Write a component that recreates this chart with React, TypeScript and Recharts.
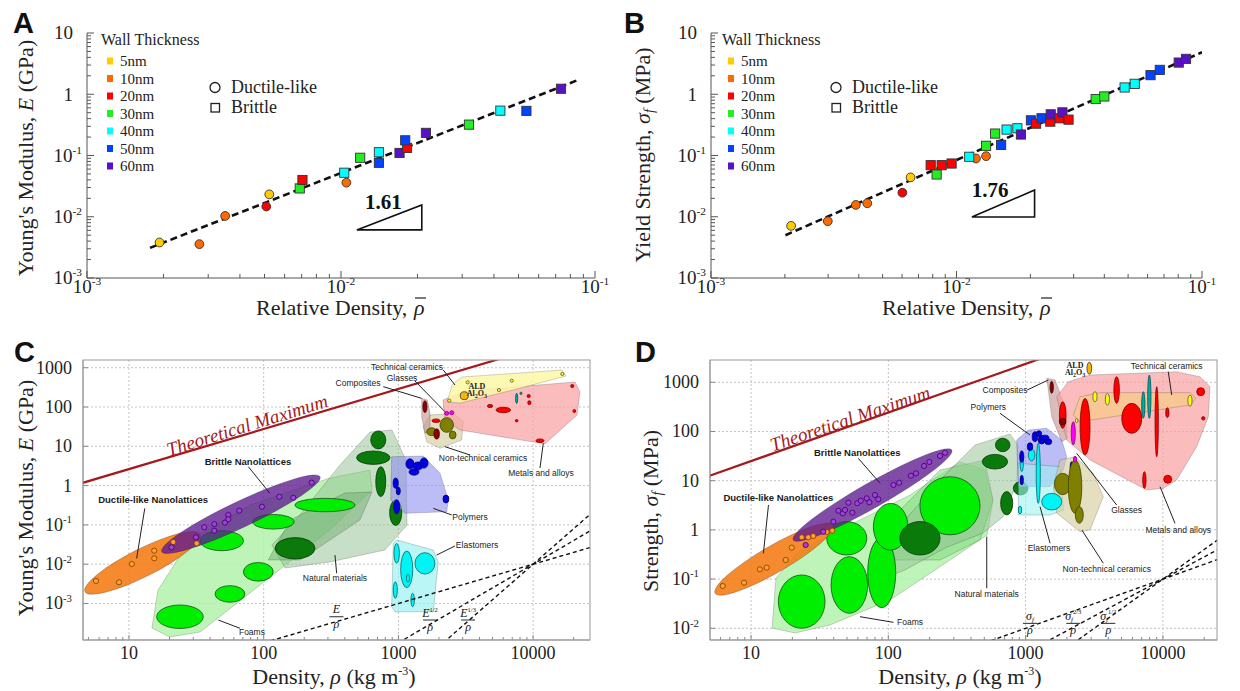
import React from 'react';
import { ScatterChart, Scatter, XAxis, YAxis, CartesianGrid } from 'recharts';

const SERIF = '"Liberation Serif", "Times New Roman", serif';
const SANS = '"Liberation Sans", Arial, sans-serif';

// wall thickness (nm) and marker colours
const WALL_NM = [5, 10, 20, 30, 40, 50, 60];
const NM_COLORS: Record<number, string> = {
  5: '#ffcc00', 10: '#ff6a00', 20: '#ff0000', 30: '#22ee22', 40: '#00ffff', 50: '#0044ff', 60: '#5a10c8',
};

// Panel A: [relative density, E (GPa), wall nm]
const A_DUCTILE = [[0.00193, 0.0038, 5], [0.00277, 0.00357, 10], [0.0035, 0.0103, 10], [0.00508, 0.0147, 20], [0.00522, 0.0232, 5], [0.0105, 0.036, 10]];
const A_BRITTLE = [[0.00688, 0.029, 30], [0.00705, 0.0398, 20], [0.0103, 0.0523, 40], [0.0119, 0.0918, 30], [0.0141, 0.113, 40], [0.0141, 0.076, 50], [0.017, 0.11, 60], [0.0182, 0.133, 20], [0.0179, 0.177, 50], [0.0216, 0.234, 60], [0.0319, 0.319, 30], [0.0424, 0.54, 40], [0.0537, 0.535, 50], [0.0735, 1.23, 60]];
const A_FIT = [[0.00177, 0.0031], [0.0845, 1.67]];
const A_SLOPE = [[0.01154, 0.0061], [0.0208, 0.0061], [0.0208, 0.0156], [0.01154, 0.0061]];
const A_SLOPE_LABEL: [string, number, number, string][] = [['1.61', 0.0147, 0.0174, 'slope']];

// Panel B: [relative density, yield strength (MPa), wall nm]
const B_DUCTILE = [[0.00212, 0.0071, 5], [0.00299, 0.00845, 10], [0.00389, 0.0156, 10], [0.00433, 0.0166, 10], [0.00602, 0.0247, 20], [0.0065, 0.0439, 5], [0.012, 0.0893, 10], [0.0132, 0.0975, 10]];
const B_BRITTLE = [[0.00785, 0.0695, 20], [0.0083, 0.049, 30], [0.0087, 0.0695, 20], [0.00955, 0.074, 20], [0.01127, 0.0953, 40], [0.0132, 0.144, 30], [0.0152, 0.149, 50], [0.01437, 0.228, 30], [0.016, 0.265, 40], [0.0177, 0.278, 40], [0.0183, 0.22, 60], [0.0201, 0.375, 50], [0.0211, 0.331, 20], [0.0222, 0.405, 50], [0.0241, 0.357, 20], [0.0242, 0.47, 60], [0.0263, 0.405, 20], [0.027, 0.506, 60], [0.0286, 0.385, 20], [0.0369, 0.835, 30], [0.04, 0.92, 30], [0.0484, 1.29, 40], [0.0532, 1.48, 40], [0.0617, 2.05, 50], [0.0673, 2.5, 50], [0.0804, 3.29, 60], [0.0861, 3.78, 60]];
const B_FIT = [[0.00201, 0.005], [0.1, 4.85]];
const B_SLOPE = [[0.01155, 0.0099], [0.0208, 0.0099], [0.0208, 0.0273], [0.01155, 0.0099]];
const B_SLOPE_LABEL: [string, number, number, string][] = [['1.76', 0.0137, 0.028, 'slope']];

// Panel C: Young's modulus (GPa) vs density (kg/m3)
// bubbles: [density, modulus, half spread x (decades), half spread y (decades)]
const C_FOAM_BUBBLES = [[23.9, 4.6e-4, 0.173, 0.298], [56.2, 1.75e-3, 0.111, 0.211], [91.2, 6.4e-3, 0.111, 0.237], [48.8, 0.0396, 0.161, 0.254], [118, 0.12, 0.154, 0.186], [285, 0.32, 0.223, 0.17]];
const C_NATURAL_BUBBLES = [[171, 0.0254, 0.148, 0.272], [709, 14.5, 0.056, 0.229], [651, 5.13, 0.124, 0.17], [740, 1.26, 0.037, 0.38], [955, 0.204, 0.045, 0.323]];
const C_POLYMER_BUBBLES = [[1219, 3.55, 0.03, 0.13], [1397, 3.16, 0.037, 0.1], [1549, 3.76, 0.03, 0.13], [1306, 2.22, 0.037, 0.08], [955, 1.15, 0.019, 0.13], [998, 0.73, 0.015, 0.1], [971, 0.29, 0.022, 0.18], [2254, 0.456, 0.022, 0.1]];
const C_ELASTOMER_BUBBLES = [[1574, 0.0105, 0.074, 0.272], [1153, 7.4e-3, 0.045, 0.466], [971, 0.0189, 0.02, 0.25], [948, 2.2e-3, 0.015, 0.21], [1276, 1.23e-3, 0.013, 0.17], [1178, 4.4e-3, 0.012, 0.1]];
const C_CERAMIC_BUBBLES = [[2389, 145, 0.012, 0.04], [3266, 425, 0.012, 0.04], [5580, 271, 0.012, 0.04], [6940, 467, 0.012, 0.04], [16480, 692, 0.012, 0.04]];
const C_ALD = [[3083, 194, 0.03, 0.1]];
const C_METAL_BUBBLES = [[6010, 84, 0.054, 0.069], [4790, 106, 0.02, 0.04], [9270, 190, 0.012, 0.04], [9380, 129, 0.012, 0.05], [7550, 44.8, 0.01, 0.03], [11250, 13.9, 0.03, 0.045], [20230, 79, 0.01, 0.04], [19540, 342, 0.012, 0.04], [1901, 44.8, 0.03, 0.045]];
const C_TEAL = [[7550, 166, 0.008, 0.13], [8130, 223, 0.008, 0.03]];
const C_OLIVE = [[2284, 34.8, 0.05, 0.186], [1766, 23.5, 0.037, 0.1], [2530, 19.4, 0.025, 0.1]];
const C_DARKRED = [[1574, 102, 0.015, 0.15], [1923, 20.6, 0.02, 0.13]];
const C_GLASS = [[2284, 69, 0.015, 0.05], [2489, 71.6, 0.015, 0.05]];
// family envelopes: vertices [density, modulus]
const C_FOAM_ENV = [[14.8, 2.38e-4], [16.4, 2.2e-3], [28.4, 0.0413], [79.1, 0.321], [310, 1.56], [615, 2.49], [637, 0.773], [310, 0.0741], [94, 2.95e-3], [33.7, 1.88e-4], [20.1, 1.4e-4]];
const C_NATURAL_ENV = [[115, 0.0308], [186, 0.179], [368, 3.34], [615, 23.1], [897, 26], [1138, 4.48], [1158, 0.0993], [795, 0.023], [310, 0.0114], [144, 0.008]];
const C_NATURAL_ENV2 = [[108, 0.0128], [157, 0.133], [402, 0.649], [637, 0.687], [518, 0.133], [186, 0.0128]];
const C_POLYMER_ENV = [[891, 5.43], [1531, 5.66], [2037, 2.06], [2346, 0.43], [2284, 0.217], [1119, 0.197], [877, 0.43]];
const C_ELASTOMER_ENV = [[971, 0.0413], [1815, 0.0229], [1977, 0.0114], [1815, 6.2e-4], [944, 6.1e-4], [891, 8.3e-4], [916, 0.034]];
const C_METAL_ENV = [[2143, 151], [3119, 255], [20470, 433], [22280, 241], [21180, 62.5], [12250, 11.5], [2864, 26], [2218, 46.7]];
const C_TECH_ENV = [[2296, 134], [2500, 363], [2966, 580], [16400, 873], [17550, 615], [7100, 271], [2864, 126]];
const C_COMPOSITE_ENV = [[1489, 166], [1640, 151], [1718, 69], [1718, 26], [1574, 21.4], [1489, 56.6]];
const C_NONTECH_ENV = [[1531, 31.5], [1718, 62.5], [2560, 69], [3035, 42.3], [2950, 14.5], [2037, 8.9], [1622, 13.1]];
// nanolattice bands: major-axis ends [x1, y1, x2, y2]
const C_DUCTILE_BAND = [4.71, 0.002, 33.6, 0.0586];
const C_BRITTLE_BAND = [17.5, 0.0208, 262, 1.68];
const C_DUCTILE_PTS = [[5.69, 0.00374], [8.43, 0.00347], [10.5, 0.0101], [15.4, 0.0141], [15.4, 0.0221], [21.3, 0.0367], [31.8, 0.034]];
const C_BRITTLE_PTS = [[20.7, 0.0269], [31.4, 0.0483], [36.2, 0.0869], [43, 0.105], [43, 0.0711], [51.6, 0.114], [54.6, 0.179], [54.6, 0.139], [65.9, 0.23], [97, 0.29], [130.6, 0.52], [166, 0.49], [227, 1.19]];
const C_THEORY = [[4.4, 1.14, 6000, 1790]];
const C_GUIDES = [[100, 1e-4, 30000, 0.03], [1000, 1e-4, 30000, 0.09], [2154, 1e-4, 30000, 0.27]];
const C_LEADERS = [[13.1, 0.264, 11.4, 0.0141], [76.9, 3.03, 111, 0.637], [46, 3.8e-4, 66.7, 2.34e-4], [338, 0.0171, 348, 5.9e-3], [1815, 0.264, 2490, 0.179], [1923, 0.0171, 2630, 0.029], [2218, 9.77, 3400, 6.01], [11900, 11.9, 11250, 2.8], [2153, 873, 2630, 363], [1327, 459, 2218, 75.9], [773, 329, 1489, 166]];
const C_LABELS: [string, number, number, string][] = [
  ['Ductile-like Nanolattices', 15.1, 0.43, 'bold'], ['Brittle Nanolattices', 76.4, 3.98, 'bold'],
  ['Foams', 81.8, 1.88e-4, 'small'], ['Natural materials', 338, 4.46e-3, 'small'], ['Polymers', 3400, 0.159, 'small'],
  ['Elastomers', 3840, 0.0308, 'small'], ['Non-technical ceramics', 4250, 5.04, 'small'], ['Metals and alloys', 11450, 2.09, 'small'],
  ['Technical ceramics', 1159, 1042, 'small'], ['Glasses', 1064, 547, 'small'], ['Composites', 501, 408, 'small'],
  ['ALD', 3830, 342, 'ald'], ['Al2O3', 3830, 227, 'al2o3'], ['Theoretical Maximum', 75.2, 34.8, 'theoC'],
];
const C_FRAC = [[347, 4.6e-4, ''], [1718, 3.8e-4, '1/2'], [3290, 3.8e-4, '1/3']];

// Panel D: strength (MPa) vs density (kg/m3)
const D_FOAM_BUBBLES = [[23.4, 0.0348, 0.17, 0.542], [52, 0.0759, 0.133, 0.575], [49.8, 0.675, 0.146, 0.339], [89.5, 0.135, 0.102, 0.711], [104, 1.16, 0.126, 0.474], [281, 3.09, 0.219, 0.59]];
const D_NATURAL_BUBBLES = [[170, 0.675, 0.146, 0.339], [681, 53.2, 0.053, 0.136], [598, 24.3, 0.092, 0.149], [728, 3.48, 0.044, 0.237], [920, 7.01, 0.053, 0.136]];
const D_OLIVE = [[1862, 8.57, 0.06, 0.217], [2291, 7.55, 0.049, 0.542], [2461, 2.01, 0.029, 0.169]];
const D_CYAN = [[1549, 3.74, 0.073, 0.169], [1236, 14.1, 0.015, 0.61], [1106, 33.3, 0.024, 0.122], [910, 2.54, 0.012, 0.081], [937, 22.6, 0.012, 0.17]];
const D_BLUE = [[1170, 78.4, 0.02, 0.1], [1309, 67.1, 0.025, 0.08], [1463, 62.1, 0.025, 0.06], [1076, 49.1, 0.02, 0.08], [937, 30.8, 0.015, 0.12], [937, 10.3, 0.012, 0.1], [2168, 19.3, 0.012, 0.1], [1250, 90, 0.02, 0.06], [1380, 75, 0.03, 0.05]];
const D_MAGENTA = [[2223, 91.9, 0.015, 0.237], [2291, 27.2, 0.012, 0.06]];
const D_YELLOW = [[2355, 166, 0.01, 0.04], [3200, 509, 0.015, 0.1], [3940, 451, 0.015, 0.12], [15740, 423, 0.015, 0.11]];
const D_ALD = [[2910, 1930, 0.017, 0.122]];
const D_RED = [[1862, 216, 0.024, 0.27], [2710, 125, 0.036, 0.575], [4600, 697, 0.02, 0.27], [5930, 185, 0.073, 0.305], [9010, 158, 0.012, 0.711], [10770, 241, 0.012, 0.1], [18840, 644, 0.029, 0.081], [19680, 185, 0.012, 0.035], [7330, 10.3, 0.012, 0.17], [10840, 10.7, 0.029, 0.081]];
const D_DARKRED = [[1549, 791, 0.012, 0.122], [1862, 158, 0.024, 0.068]];
const D_TEAL = [[7200, 346, 0.012, 0.27], [7960, 509, 0.012, 0.44]];
const D_FOAM_ENV = [[14.2, 0.0101], [15.2, 0.105], [22.8, 0.39], [52.6, 1.26], [144, 5.12], [333, 24], [506, 16.5], [579, 4.06], [524, 0.787], [281, 0.244], [103, 0.0376], [37.6, 0.0117], [20.9, 8.0e-3]];
const D_MID_ENV = [[94.6, 0.244], [122, 2.54], [238, 16.5], [506, 26.4], [579, 4.06], [466, 0.624], [238, 0.244]];
const D_NATURAL_ENV = [[87.1, 0.0959], [132, 1.59], [238, 10.3], [428, 53.2], [769, 88.9], [881, 53.2], [865, 8.98], [684, 1.83], [490, 0.865], [259, 0.429], [132, 0.153]];
const D_POLYMER_ENV = [[861, 67.1], [1047, 107], [1426, 116], [1832, 67.1], [1991, 30.8], [1884, 16.5], [1507, 7.55], [881, 7.55]];
const D_ELASTOMER_ENV = [[885, 22.6], [1778, 19.3], [1884, 2.54], [1507, 2.01], [885, 2.01]];
const D_NONTECH_ENV = [[1778, 26.4], [2291, 30.8], [3112, 14.1], [3680, 4.73], [2944, 0.995], [2489, 0.918], [1687, 2.17], [1592, 7.55]];
const D_METAL_ENV = [[1687, 509], [2046, 1028], [2944, 1406], [12590, 1641], [18620, 1300], [22030, 815], [21430, 200], [17620, 49.1], [12590, 10.3], [10070, 7.01], [7620, 6.47], [2944, 26.4], [1991, 67.1]];
const D_TECH_ENV = [[2223, 216], [2489, 509], [3480, 615], [15740, 615], [17400, 473], [15740, 346], [2489, 158]];
const D_COMPOSITE_ENV = [[1426, 1206], [1637, 1114], [1991, 274], [2012, 72.8], [1832, 62.1], [1549, 200]];
const D_DUCTILE_BAND = [5.47, 0.0514, 39.7, 1.26];
const D_BRITTLE_BAND = [20.3, 0.624, 290, 42.1];
const D_DUCTILE_PTS = [[6.22, 0.0724], [8.9, 0.0845], [11.6, 0.158], [13, 0.171], [17.9, 0.244], [19.8, 0.435], [23.4, 0.708], [26.1, 0.708], [28.4, 0.751], [35.6, 0.906], [39.1, 0.964]];
const D_BRITTLE_PTS = [[25, 0.493], [33.6, 0.918], [39.8, 1.47], [43.3, 2.45], [46.6, 2.17], [48.4, 2.54], [54.7, 2.24], [51.2, 3.57], [59.4, 3.48], [63, 3.92], [69.6, 4.38], [72.8, 3.64], [80, 5.12], [84.5, 4.19], [109, 8.18], [120, 9.1], [146, 12.6], [159, 14.1], [182, 19.9], [199, 24], [238, 31.8], [259, 37]];
const D_THEORY = [[4.8, 12.1, 1400, 3300]];
const D_GUIDES = [[500, 0.005, 30000, 0.3], [1000, 0.00316, 30000, 0.52], [2000, 0.004, 30000, 0.9]];
const D_LEADERS = [[13.4, 3.21, 12.3, 0.334], [60.4, 28.5, 87.1, 8.85], [62.2, 0.0172, 109, 0.0132], [521, 0.728, 521, 0.065], [651, 234, 1076, 84.9], [1028, 698, 1463, 1114], [1507, 0.535, 1274, 2.96], [3680, 0.21, 2566, 0.995], [4600, 3.21, 2355, 36], [12250, 1.36, 9530, 7.55], [10940, 1641, 11590, 552]];
const D_LABELS: [string, number, number, string][] = [
  ['Ductile-like Nanolattices', 15.8, 4.6, 'bold'], ['Brittle Nanolattices', 59.4, 37, 'bold'],
  ['Foams', 144, 0.0132, 'small'], ['Natural materials', 521, 0.0498, 'small'], ['Elastomers', 1479, 0.423, 'small'],
  ['Non-technical ceramics', 3900, 0.158, 'small'], ['Glasses', 5440, 2.54, 'small'], ['Metals and alloys', 12940, 0.995, 'small'],
  ['Technical ceramics', 10660, 2140, 'small'], ['Composites', 708, 698, 'small'], ['Polymers', 535, 310, 'small'],
  ['ALD', 2291, 2250, 'ald'], ['Al2O3', 2291, 1567, 'al2o3'], ['Theoretical Maximum', 52.6, 185, 'theoD'],
];
const D_FRAC = [[1076, 0.0126, ''], [2223, 0.0126, '2/3'], [4000, 0.0126, '1/2']];

const MULTS = [1, 2, 3, 4, 5, 6, 7, 8, 9];
const logTicks = (lo: number, hi: number, mults = MULTS) => {
  const out: number[] = [];
  for (let e = Math.floor(Math.log10(lo)); e <= Math.ceil(Math.log10(hi)); e++) {
    for (const m of mults) {
      const v = m * Math.pow(10, e);
      if (v >= lo * 0.9999 && v <= hi * 1.0001) out.push(v);
    }
  }
  return out;
};
const isMajor = (v: number) => Math.abs(Math.log10(v) - Math.round(Math.log10(v))) < 1e-6;

const Hidden = () => <g />;

function PowLabel({ x, y, v, anchor, size, plainMin }: any) {
  const e = Math.round(Math.log10(v));
  if (e >= plainMin) {
    return <text x={x} y={y} textAnchor={anchor} fontSize={size} fontFamily={SERIF} fill="#222">{String(Math.round(v))}</text>;
  }
  return (
    <text x={x} y={y} textAnchor={anchor} fontSize={size} fontFamily={SERIF} fill="#222">
      10<tspan dy={-size * 0.42} fontSize={size * 0.6}>{String(e)}</tspan>
    </text>
  );
}

function makeTick(axis: 'x' | 'y', o: any) {
  return (p: any) => {
    const v = p.payload.value;
    const maj = isMajor(v);
    const len = maj ? o.major : o.minor;
    const pow = Math.round(Math.log10(v)) < o.plainMin;
    if (axis === 'y') {
      return (
        <g>
          {len > 0 && <line x1={p.x} x2={p.x + len} y1={p.y} y2={p.y} stroke={o.color} />}
          {maj && <PowLabel x={p.x - (pow ? o.gapPow : o.gap)} y={p.y + o.size * 0.33} v={v} anchor="end" size={o.size} plainMin={o.plainMin} />}
        </g>
      );
    }
    return (
      <g>
        {len > 0 && <line x1={p.x} x2={p.x} y1={p.y} y2={p.y - len} stroke={o.color} />}
        {maj && <PowLabel x={p.x} y={p.y + o.gap} v={v} anchor="middle" size={o.size} plainMin={o.plainMin} />}
      </g>
    );
  };
}

const pts = (list: number[][]) => list.map(([x, y]) => ({ x, y }));
const pairPts = (list: number[][]) => list.flatMap(([x1, y1, x2, y2]) => [{ x: x1, y: y1 }, { x: x2, y: y2 }]);

function blob(key: string, verts: number[][], fill: string, op: number, stroke = 'rgba(0,0,0,0.22)') {
  return (
    <Scatter key={key} data={pts(verts)} shape={Hidden} isAnimationActive={false}
      line={{ fill, fillOpacity: op, stroke, strokeWidth: 0.8, strokeLinejoin: 'round' }} lineType="joint" lineJointType="linearClosed" />
  );
}

function bubbles(key: string, list: number[][], fill: string, stroke: string, op = 1) {
  const corners = list.flatMap(([x, y, dx, dy]) => [
    { x: x / Math.pow(10, dx), y: y / Math.pow(10, dy) },
    { x: x * Math.pow(10, dx), y: y * Math.pow(10, dy) },
  ]);
  const draw = (lp: any) => (
    <g>
      {list.map((_, i) => {
        const a = lp.points[2 * i];
        const b = lp.points[2 * i + 1];
        return <ellipse key={i} cx={(a.x + b.x) / 2} cy={(a.y + b.y) / 2} rx={Math.abs(b.x - a.x) / 2} ry={Math.abs(b.y - a.y) / 2}
          fill={fill} fillOpacity={op} stroke={stroke} strokeWidth={0.8} />;
      })}
    </g>
  );
  return <Scatter key={key} data={corners} shape={Hidden} line={draw} lineType="joint" isAnimationActive={false} />;
}

function band(key: string, seg: number[], thick: number, fill: string, op: number) {
  const draw = (lp: any) => {
    const [a, b] = lp.points;
    const cx = (a.x + b.x) / 2;
    const cy = (a.y + b.y) / 2;
    const rx = Math.hypot(b.x - a.x, b.y - a.y) / 2;
    const ang = (Math.atan2(b.y - a.y, b.x - a.x) * 180) / Math.PI;
    return <ellipse cx={cx} cy={cy} rx={rx} ry={thick / 2} transform={`rotate(${ang} ${cx} ${cy})`} fill={fill} fillOpacity={op} stroke="rgba(0,0,0,0.25)" strokeWidth={0.8} />;
  };
  return <Scatter key={key} data={pairPts([seg])} shape={Hidden} line={draw} lineType="joint" isAnimationActive={false} />;
}

function segs(key: string, list: number[][], stroke: string, width: number, dash?: string) {
  const draw = (lp: any) => (
    <g>
      {list.map((_, i) => {
        const a = lp.points[2 * i];
        const b = lp.points[2 * i + 1];
        return <line key={i} x1={a.x} y1={a.y} x2={b.x} y2={b.y} stroke={stroke} strokeWidth={width} strokeDasharray={dash} />;
      })}
    </g>
  );
  return <Scatter key={key} data={pairPts(list)} shape={Hidden} line={draw} lineType="joint" isAnimationActive={false} />;
}

function dots(key: string, list: number[][], fill: string, stroke: string, r: number) {
  return (
    <Scatter key={key} data={pts(list)} isAnimationActive={false}
      shape={(p: any) => <circle cx={p.cx} cy={p.cy} r={r} fill={fill} stroke={stroke} strokeWidth={0.8} />} />
  );
}

const LABEL_STYLE: Record<string, any> = {
  bold: { font: SANS, size: 9.5, weight: 700, fill: '#1a1a1a' },
  small: { font: SANS, size: 8.5, weight: 400, fill: '#222' },
  theoC: { font: SERIF, size: 19, italic: true, fill: '#a3191c', rot: -17.3 },
  theoD: { font: SERIF, size: 19, italic: true, fill: '#a3191c', rot: -18.7 },
  slope: { font: SERIF, size: 21, weight: 700, fill: '#111' },
  ald: { font: SERIF, size: 8, weight: 700, fill: '#222' },
  al2o3: { font: SERIF, size: 8, weight: 700, fill: '#222' },
};

const LabelShape = (p: any) => {
  const { cx, cy, payload } = p;
  const st = LABEL_STYLE[payload.k];
  const content = payload.k === 'al2o3'
    ? <>Al<tspan fontSize={6} dy={2}>2</tspan><tspan dy={-2}>O</tspan><tspan fontSize={6} dy={2}>3</tspan></>
    : payload.t;
  return (
    <text x={cx} y={cy} dy="0.35em" textAnchor="middle" fontFamily={st.font} fontSize={st.size} fontWeight={st.weight || 400}
      fontStyle={st.italic ? 'italic' : 'normal'} fill={st.fill} transform={st.rot ? `rotate(${st.rot} ${cx} ${cy})` : undefined}>
      {content}
    </text>
  );
};

function labels(key: string, list: [string, number, number, string][]) {
  const data = list.map(([t, x, y, k]) => ({ x, y, t, k }));
  return <Scatter key={key} data={data} shape={LabelShape} isAnimationActive={false} />;
}

function fracs(key: string, list: any[], num: string, sub: string) {
  const data = list.map(([x, y, e]) => ({ x, y, e }));
  const shape = (p: any) => {
    const { cx, cy, payload } = p;
    return (
      <g fontFamily={SERIF} fill="#111">
        <text x={cx} y={cy - 3.5} textAnchor="middle" fontSize={12} fontStyle="italic">
          {num}
          {sub && <tspan fontSize={7} dy={2}>{sub}</tspan>}
          {payload.e && <tspan fontSize={6.5} dy={sub ? -8 : -5} fontStyle="normal">{payload.e}</tspan>}
        </text>
        <line x1={cx - 7} x2={cx + 7} y1={cy} y2={cy} stroke="#111" strokeWidth={0.9} />
        <text x={cx} y={cy + 11} textAnchor="middle" fontSize={12} fontStyle="italic">ρ</text>
      </g>
    );
  };
  return <Scatter key={key} data={data} shape={shape} isAnimationActive={false} />;
}

const nmPoints = (list: number[][]) => list.map(([x, y, nm]) => ({ x, y, nm }));
const CircleMark = (p: any) => <circle cx={p.cx} cy={p.cy} r={4.4} fill={NM_COLORS[p.payload.nm]} stroke="#333" strokeWidth={0.9} />;
const SquareMark = (p: any) => <rect x={p.cx - 4.6} y={p.cy - 4.6} width={9.2} height={9.2} fill={NM_COLORS[p.payload.nm]} stroke="#333" strokeWidth={0.9} />;

function RelPanel({ left, yW, right, ductile, brittle, fit, slope, slopeLabel }: any) {
  const xTicks = logTicks(1e-3, 1e-1);
  const yTicks = logTicks(1e-3, 10);
  const tickOpt = { major: 7, minor: 4, color: '#555', size: 19, plainMin: 0, gap: 14, gapPow: 5 };
  return (
    <div style={{ position: 'absolute', left, top: 0 }}>
      <ScatterChart width={620} height={320} margin={{ top: 33, right, bottom: 0, left: 0 }}>
        <XAxis type="number" dataKey="x" scale="log" domain={[1e-3, 1e-1]} allowDataOverflow ticks={xTicks} interval={0}
          tick={makeTick('x', { ...tickOpt, plainMin: 99, gap: 15 })} tickLine={false} tickSize={0} tickMargin={0} height={42}
          axisLine={{ stroke: '#555' }} />
        <YAxis type="number" dataKey="y" scale="log" domain={[1e-3, 10]} allowDataOverflow ticks={yTicks} interval={0}
          tick={makeTick('y', tickOpt)} tickLine={false} tickSize={0} tickMargin={0} width={yW} axisLine={{ stroke: '#555' }} />
        {segs('fit', [[fit[0][0], fit[0][1], fit[1][0], fit[1][1]]], '#111', 2.6, '7 4')}
        <Scatter data={pts(slope)} shape={Hidden} line={{ stroke: '#111', strokeWidth: 1.6 }} lineType="joint" isAnimationActive={false} />
        {labels('slopeLabel', slopeLabel)}
        <Scatter data={nmPoints(ductile)} shape={CircleMark} isAnimationActive={false} />
        <Scatter data={nmPoints(brittle)} shape={SquareMark} isAnimationActive={false} />
      </ScatterChart>
    </div>
  );
}

function AshbyPanel({ left, yW, right, xDomain, yDomain, yMajors, children }: any) {
  const xTicks = logTicks(xDomain[0], xDomain[1]);
  const tickOpt = { major: 5, minor: 3, color: '#888', size: 18, plainMin: 0, gap: 11, gapPow: 11 };
  return (
    <div style={{ position: 'absolute', left, top: 340 }}>
      <ScatterChart width={620} height={351} margin={{ top: 20, right, bottom: 0, left: 0 }}>
        <CartesianGrid horizontalValues={yMajors} verticalValues={[10, 100, 1000, 10000]} stroke="#c4c4c4" strokeDasharray="2 2" />
        <XAxis type="number" dataKey="x" scale="log" domain={xDomain} allowDataOverflow ticks={xTicks} interval={0}
          tick={makeTick('x', { ...tickOpt, plainMin: -99, gap: 19 })} tickLine={false} tickSize={0} tickMargin={0} height={51}
          axisLine={{ stroke: '#999' }} />
        <YAxis type="number" dataKey="y" scale="log" domain={yDomain} allowDataOverflow ticks={yMajors} interval={0}
          tick={makeTick('y', tickOpt)} tickLine={false} tickSize={0} tickMargin={0} width={yW} axisLine={{ stroke: '#999' }} />
        {children}
      </ScatterChart>
    </div>
  );
}

const GREEN = '#00ee00';
const DKGREEN = '#0a7a0a';

export default function App() {
  const legend = (dx: number) => (
    <g fontFamily={SERIF} fill="#222">
      <text x={101 + dx} y={45} fontSize={16}>Wall Thickness</text>
      {WALL_NM.map((nm, i) => (
        <g key={nm}>
          <rect x={107 + dx} y={57.5 + i * 17.5} width={6} height={7} fill={NM_COLORS[nm]} />
          <text x={120 + dx} y={66 + i * 17.5} fontSize={15}>{nm}nm</text>
        </g>
      ))}
      <circle cx={215 + dx} cy={87.5} r={5} fill="#fff" stroke="#222" strokeWidth={1.3} />
      <text x={231 + dx} y={93} fontSize={18}>Ductile-like</text>
      <rect x={211 + dx} y={103.5} width={8.5} height={8.5} fill="#fff" stroke="#222" strokeWidth={1.3} />
      <text x={231 + dx} y={113} fontSize={18}>Brittle</text>
    </g>
  );

  // x-axis title of panels A and B: "Relative Density, ρ" with a bar over ρ
  const relTitle = (x0: number) => (
    <g>
      <text x={x0} y={315}>Relative Density, </text>
      <text x={x0 + 158} y={315} fontStyle="italic">ρ</text>
      <line x1={x0 + 159} x2={x0 + 170} y1={298} y2={298} stroke="#222" strokeWidth={1.2} />
    </g>
  );

  return (
    <div style={{ position: 'absolute', left: 0, top: 0, width: 1240, height: 691, background: '#fff', overflow: 'hidden' }}>
      <RelPanel left={0} yW={87} right={25} ductile={A_DUCTILE} brittle={A_BRITTLE} fit={A_FIT} slope={A_SLOPE} slopeLabel={A_SLOPE_LABEL} />
      <RelPanel left={620} yW={91} right={38} ductile={B_DUCTILE} brittle={B_BRITTLE} fit={B_FIT} slope={B_SLOPE} slopeLabel={B_SLOPE_LABEL} />

      <AshbyPanel left={0} yW={83} right={30} xDomain={[4.556, 26450]} yDomain={[1.178e-4, 1571]} yMajors={[1e-3, 1e-2, 1e-1, 1, 10, 100, 1000]}>
        {blob('cfoam', C_FOAM_ENV, '#b4f2ac', 0.85)}
        {blob('cnat', C_NATURAL_ENV, '#8fbf8f', 0.5)}
        {blob('cnat2', C_NATURAL_ENV2, '#6aa86a', 0.45)}
        {bubbles('cfb', C_FOAM_BUBBLES, GREEN, '#1a4a1a')}
        {bubbles('cnb', C_NATURAL_BUBBLES, DKGREEN, '#063806')}
        {blob('cpoly', C_POLYMER_ENV, '#8f8ff0', 0.6)}
        {blob('celas', C_ELASTOMER_ENV, '#9cf2f2', 0.7)}
        {blob('cnont', C_NONTECH_ENV, '#d3c99a', 0.6)}
        {blob('ccomp', C_COMPOSITE_ENV, '#c39090', 0.6)}
        {blob('cmet', C_METAL_ENV, '#f8a0a0', 0.7)}
        {blob('ctech', C_TECH_ENV, '#fbf8a8', 0.85)}
        {bubbles('cpb', C_POLYMER_BUBBLES, '#0000e6', '#000066')}
        {bubbles('ceb', C_ELASTOMER_BUBBLES, '#00f4f4', '#066')}
        {bubbles('cob', C_OLIVE, '#808000', '#404000')}
        {bubbles('cdr', C_DARKRED, '#8b0000', '#400000')}
        {bubbles('cmb', C_METAL_BUBBLES, '#ff0000', '#800000')}
        {bubbles('ctb', C_TEAL, '#00a8a8', '#055')}
        {bubbles('cgb', C_GLASS, '#ff00ff', '#800080')}
        {bubbles('ccb', C_CERAMIC_BUBBLES, '#ffff00', '#555')}
        {bubbles('cald', C_ALD, '#f5b800', '#333')}
        {band('cdb', C_DUCTILE_BAND, 28, '#f57a12', 0.88)}
        {band('cbb', C_BRITTLE_BAND, 26, '#5e1a8e', 0.78)}
        {dots('cdp', C_DUCTILE_PTS, '#ffa030', '#7a3b00', 2.6)}
        {dots('cbp', C_BRITTLE_PTS, '#a040e0', '#3a0060', 2.6)}
        {segs('cthe', C_THEORY, '#a3191c', 2.2)}
        {segs('cgd', C_GUIDES, '#111', 1.4, '4 3')}
        {segs('cld', C_LEADERS, '#222', 1)}
        {labels('clab', C_LABELS)}
        {fracs('cfr', C_FRAC, 'E', '')}
      </AshbyPanel>

      <AshbyPanel left={620} yW={90} right={23} xDomain={[5.025, 24770]} yDomain={[5.78e-3, 2837]} yMajors={[1e-2, 1e-1, 1, 10, 100, 1000]}>
        {blob('dfoam', D_FOAM_ENV, '#b4f2ac', 0.85)}
        {blob('dmid', D_MID_ENV, '#7fd87f', 0.55)}
        {blob('dnat', D_NATURAL_ENV, '#8fbf8f', 0.5)}
        {bubbles('dfb', D_FOAM_BUBBLES, GREEN, '#1a4a1a')}
        {bubbles('dnb', D_NATURAL_BUBBLES, DKGREEN, '#063806')}
        {blob('dpoly', D_POLYMER_ENV, '#8f8ff0', 0.6)}
        {blob('delas', D_ELASTOMER_ENV, '#9cf2f2', 0.6)}
        {blob('dnont', D_NONTECH_ENV, '#d3c99a', 0.6)}
        {blob('dcomp', D_COMPOSITE_ENV, '#c39090', 0.6)}
        {blob('dmet', D_METAL_ENV, '#f8a0a0', 0.7)}
        {blob('dtech', D_TECH_ENV, '#f8c890', 0.9)}
        {bubbles('dcy', D_CYAN, '#00f4f4', '#066')}
        {bubbles('dbl', D_BLUE, '#0000e6', '#000066')}
        {bubbles('dol', D_OLIVE, '#808000', '#404000')}
        {bubbles('drd', D_RED, '#ff0000', '#800000')}
        {bubbles('ddr', D_DARKRED, '#8b0000', '#400000')}
        {bubbles('dte', D_TEAL, '#00a8a8', '#055')}
        {bubbles('dmg', D_MAGENTA, '#ff00ff', '#800080')}
        {bubbles('dye', D_YELLOW, '#ffff00', '#555')}
        {bubbles('dald', D_ALD, '#f5b800', '#333')}
        {band('ddb', D_DUCTILE_BAND, 27, '#f57a12', 0.88)}
        {band('dbb', D_BRITTLE_BAND, 25, '#5e1a8e', 0.78)}
        {dots('ddp', D_DUCTILE_PTS, '#ffa030', '#7a3b00', 2.6)}
        {dots('dbp', D_BRITTLE_PTS, '#a040e0', '#3a0060', 2.6)}
        {segs('dthe', D_THEORY, '#a3191c', 2.2)}
        {segs('dgd', D_GUIDES, '#111', 1.4, '4 3')}
        {segs('dld', D_LEADERS, '#222', 1)}
        {labels('dlab', D_LABELS)}
        {fracs('dfr', D_FRAC, 'σ', 'f')}
      </AshbyPanel>

      <svg width={1240} height={691} style={{ position: 'absolute', left: 0, top: 0, pointerEvents: 'none' }}>
        <g fontFamily={SANS} fontWeight={700} fontSize={29} fill="#111">
          <text x={13} y={33}>A</text>
          <text x={624} y={33}>B</text>
          <text x={14} y={362}>C</text>
          <text x={635} y={362}>D</text>
        </g>
        {legend(0)}
        {legend(621)}
        <rect x={83} y={360} width={507} height={280} fill="none" stroke="#999" />
        <rect x={710} y={360} width={507} height={280} fill="none" stroke="#999" />
        <g fontFamily={SERIF} fontSize={22} fill="#222">
          {relTitle(256)}
          {relTitle(882)}
        </g>
        <g fontFamily={SERIF} fontSize={22} fill="#222" textAnchor="middle">
          <text transform="translate(33,158) rotate(-90)">Young's Modulus, <tspan fontStyle="italic">E</tspan> (GPa)</text>
          <text transform="translate(650,155) rotate(-90)">Yield Strength, <tspan fontStyle="italic">σ</tspan><tspan fontSize={14} dy={4} fontStyle="italic">f</tspan><tspan dy={-4}> (MPa)</tspan></text>
          <text transform="translate(33,498) rotate(-90)">Young's Modulus, <tspan fontStyle="italic">E</tspan> (GPa)</text>
          <text x={334} y={684}>Density, <tspan fontStyle="italic">ρ</tspan> (kg m<tspan fontSize={12} dy={-9}>-3</tspan><tspan dy={9}>)</tspan></text>
          <text transform="translate(658,511) rotate(-90)">Strength, <tspan fontStyle="italic">σ</tspan><tspan fontSize={14} dy={4} fontStyle="italic">f</tspan><tspan dy={-4}> (MPa)</tspan></text>
          <text x={960} y={684}>Density, <tspan fontStyle="italic">ρ</tspan> (kg m<tspan fontSize={12} dy={-9}>-3</tspan><tspan dy={9}>)</tspan></text>
        </g>
      </svg>
    </div>
  );
}
